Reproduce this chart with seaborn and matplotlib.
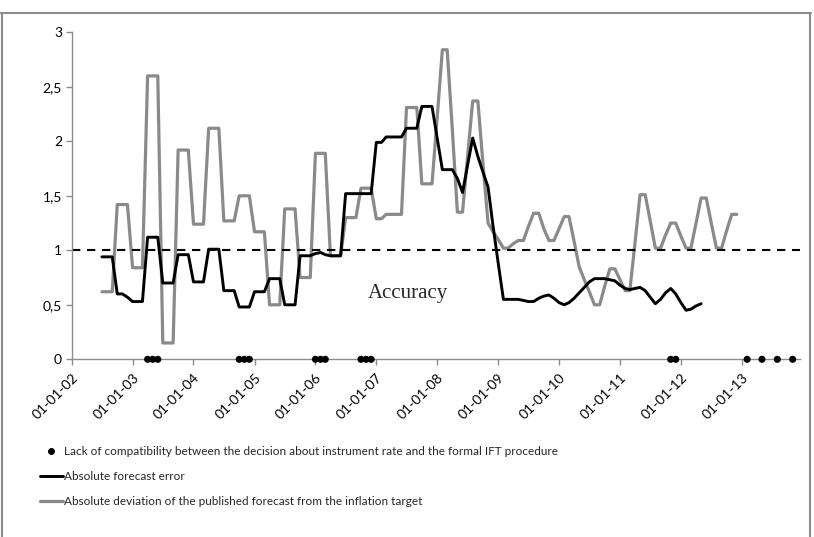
import matplotlib
matplotlib.use('Agg')
import matplotlib.pyplot as plt
import matplotlib.dates as mdates
from matplotlib.lines import Line2D
import seaborn as sns
import pandas as pd

# monthly series, first value = July 2002
series_start = '2002-07-01'

forecast_error = [
    0.94, 0.94, 0.94, 0.60, 0.60, 0.57, 0.53, 0.53, 0.53, 1.12, 1.12, 1.12,
    0.70, 0.70, 0.70, 0.96, 0.96, 0.96, 0.71, 0.71, 0.71, 1.01, 1.01, 1.01,
    0.63, 0.63, 0.63, 0.48, 0.48, 0.48, 0.62, 0.62, 0.62, 0.74, 0.74, 0.74,
    0.50, 0.50, 0.50, 0.95, 0.95, 0.95, 0.97, 0.98, 0.96, 0.95, 0.95, 0.95,
    1.52, 1.52, 1.52, 1.52, 1.52, 1.52,
    1.99, 1.99, 2.04, 2.04, 2.04, 2.04, 2.12, 2.12, 2.12, 2.32, 2.32, 2.32,
    2.03, 1.74, 1.74, 1.74, 1.66, 1.53, 1.78, 2.03, 1.86, 1.72, 1.58, 1.22,
    0.88, 0.55, 0.55, 0.55, 0.55, 0.54, 0.53, 0.53, 0.56, 0.58, 0.59, 0.56,
    0.52, 0.50, 0.52, 0.56, 0.61, 0.66, 0.71, 0.74, 0.74, 0.74, 0.73, 0.72,
    0.68, 0.65, 0.64, 0.65, 0.66, 0.63, 0.57, 0.51, 0.55, 0.61, 0.65, 0.60,
    0.52, 0.45, 0.46, 0.49, 0.51,
]

target_deviation = [
    0.62, 0.62, 0.62, 1.42, 1.42, 1.42, 0.84, 0.84, 0.84, 2.60, 2.60, 2.60,
    0.15, 0.15, 0.15, 1.92, 1.92, 1.92, 1.24, 1.24, 1.24, 2.12, 2.12, 2.12,
    1.27, 1.27, 1.27, 1.50, 1.50, 1.50, 1.17, 1.17, 1.17, 0.50, 0.50, 0.50,
    1.38, 1.38, 1.38, 0.75, 0.75, 0.75, 1.89, 1.89, 1.89, 0.95, 0.95, 0.95,
    1.30, 1.30, 1.30, 1.57, 1.57, 1.57,
    1.29, 1.29, 1.33, 1.33, 1.33, 1.33, 2.31, 2.31, 2.31, 1.61, 1.61, 1.61,
    2.22, 2.84, 2.84, 2.10, 1.35, 1.35, 1.86, 2.37, 2.37, 1.80, 1.25, 1.17,
    1.10, 1.02, 1.02, 1.06, 1.09, 1.09, 1.22, 1.34, 1.34, 1.20, 1.09, 1.09,
    1.20, 1.31, 1.31, 1.08, 0.85, 0.73, 0.62, 0.50, 0.50, 0.67, 0.83, 0.83,
    0.73, 0.63, 0.63, 1.07, 1.51, 1.51, 1.27, 1.02, 1.02, 1.14, 1.25, 1.25,
    1.13, 1.02, 1.02, 1.25, 1.48, 1.48, 1.25, 1.02, 1.02, 1.18, 1.33, 1.33,
]

# decisions not compatible with the formal IFT procedure
incompatible_dates = [
    '2003-04-01', '2003-05-01', '2003-06-01',
    '2004-10-01', '2004-11-01', '2004-12-01',
    '2006-01-01', '2006-02-01', '2006-03-01',
    '2006-10-01', '2006-11-01', '2006-12-01',
    '2011-11-01', '2011-12-01',
    '2013-02-01', '2013-05-01', '2013-08-01', '2013-11-01',
]

accuracy_level = 1.0
y_ticks = [0, 0.5, 1, 1.5, 2, 2.5, 3]
y_tick_labels = ['0', '0,5', '1', '1,5', '2', '2,5', '3']
tick_years = list(range(2002, 2014))

legend_labels = [
    'Lack of compatibility between the decision about instrument rate and the formal IFT procedure',
    'Absolute forecast error',
    'Absolute deviation of the published forecast from the inflation target',
]

sns.set_style('white')
plt.rcParams['font.family'] = ['Lato', 'DejaVu Sans']

err_dates = pd.date_range(series_start, periods=len(forecast_error), freq='MS')
dev_dates = pd.date_range(series_start, periods=len(target_deviation), freq='MS')
dots = pd.to_datetime(incompatible_dates)

fig = plt.figure(figsize=(8.14, 5.37), dpi=100)
ax = fig.add_axes([0.0881, 0.3309, 0.8947, 0.6089])

grey = '#8a8a8a'
sns.lineplot(x=dev_dates, y=target_deviation, color=grey, linewidth=2.3, ax=ax)
sns.lineplot(x=err_dates, y=forecast_error, color='black', linewidth=2.1, ax=ax)
sns.scatterplot(x=dots, y=[0] * len(dots), color='black', s=26, edgecolor='none',
                ax=ax, zorder=5, clip_on=False)

ax.axhline(accuracy_level, color='black', linestyle=(0, (4, 3.2)), linewidth=1.5)
ax.text(pd.Timestamp('2007-07-10'), 0.6, 'Accuracy', family='Liberation Serif',
        fontsize=15, ha='center', va='center')

ax.set_xlim(pd.Timestamp('2002-01-01'), pd.Timestamp('2013-12-15'))
ax.set_ylim(0, 3)
ax.set_yticks(y_ticks)
ax.set_yticklabels(y_tick_labels, fontsize=10)
ax.set_xticks([pd.Timestamp(f'{y}-01-01') for y in tick_years])
ax.xaxis.set_major_formatter(mdates.DateFormatter('%d-%m-%y'))
plt.setp(ax.get_xticklabels(), rotation=45, ha='right', rotation_mode='anchor', fontsize=10)
ax.set_xlabel('')
ax.set_ylabel('')

for side in ['top', 'right']:
    ax.spines[side].set_visible(False)
for side in ['left', 'bottom']:
    ax.spines[side].set_color('#8c8c8c')
    ax.spines[side].set_linewidth(1.0)
ax.tick_params(axis='both', direction='out', length=4, width=1, color='#8c8c8c',
               labelcolor='black', left=True, bottom=True)
ax.tick_params(axis='y', pad=3)
ax.tick_params(axis='x', pad=5)

handles = [
    Line2D([], [], color='black', marker='o', linestyle='none', markersize=4),
    Line2D([], [], color='black', linewidth=2.1),
    Line2D([], [], color=grey, linewidth=2.3),
]
fig.legend(handles, legend_labels, loc='upper left', bbox_to_anchor=(0.049, 0.170),
           frameon=False, fontsize=8.5, handlelength=1.95, handletextpad=0.1,
           labelspacing=1.2, borderpad=0, borderaxespad=0)

# outer frame of the original figure
frame = dict(color='#8c8c8c', linewidth=1.5, transform=fig.transFigure)
fig.add_artist(Line2D([0, 0.996], [0.976, 0.976], **frame))
fig.add_artist(Line2D([0.002, 0.002], [0, 0.976], **frame))
fig.add_artist(Line2D([0.995, 0.995], [0, 0.976], **frame))

fig.savefig('out.png', dpi=100)
